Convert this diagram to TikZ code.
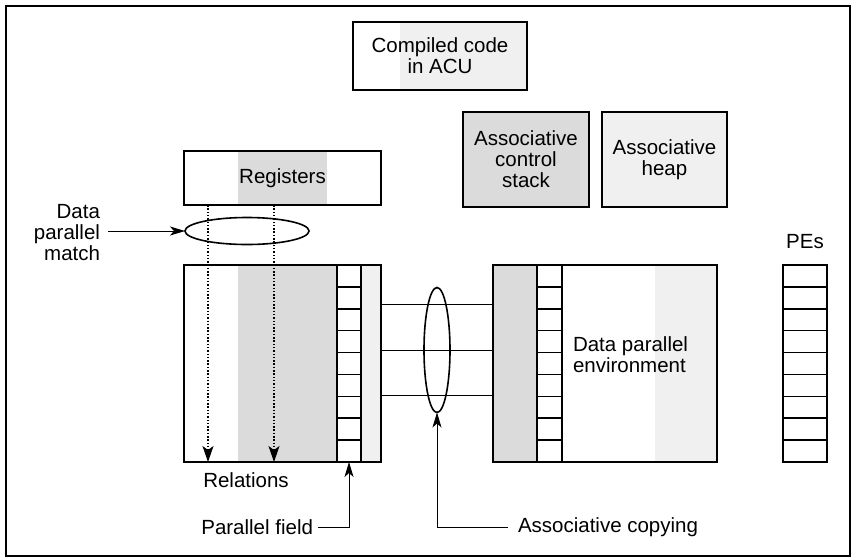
\documentclass[tikz,border=0pt]{standalone}
\usepackage{fontspec}
\setmainfont{Liberation Sans}
\usetikzlibrary{arrows.meta,shapes.geometric}
\begin{document}
\begin{tikzpicture}[x=1pt,y=-1pt,
  font=\fontsize{20.5}{21}\selectfont,
  box/.style={draw,line width=1.6pt,inner sep=0pt,outer sep=0pt,align=center},
  txt/.style={inner sep=0pt,outer sep=0pt,align=center},
  arr/.style={line width=0.8pt,-{Stealth[length=15pt,width=9pt,inset=4pt]}},
  darr/.style={line width=1.3pt,dash pattern=on 1.5pt off 1.8pt,-{Stealth[length=16pt,width=11pt,inset=4pt]}},
  conn/.style={line width=0.8pt},
  oval/.style={draw,ellipse,line width=1.6pt,inner sep=0pt,outer sep=0pt},
  shadeA/.style={fill=gray!28},
  shadeB/.style={fill=gray!12}
]
\useasboundingbox (0,0) rectangle (855,558);
% frame
\draw[line width=1.6pt] (6,6) rectangle (850,556);

% stipple-like shading
\fill[shadeB] (400,22) rectangle (527,90);
\fill[shadeA] (238,151) rectangle (327,205);
\fill[shadeA] (463,112) rectangle (589,207);
\fill[shadeB] (602,112) rectangle (727,207);
\fill[shadeA] (238,265) rectangle (337,462);
\fill[shadeB] (361,265) rectangle (381,462);
\fill[shadeA] (493,265) rectangle (537,462);
\fill[shadeB] (655,265) rectangle (717,462);

% boxes
\node[box,minimum width=174,minimum height=68] (acu) at (440,56) {Compiled code\\in ACU};
\node[box,minimum width=197,minimum height=54] (reg) at (282.5,178) {Registers};
\node[box,minimum width=126,minimum height=95] (acs) at (526,159.5) {Associative\\control\\stack};
\node[box,minimum width=125,minimum height=95] (heap) at (664.5,159.5) {Associative\\heap};

\node[box,minimum width=197,minimum height=197] (lbox) at (282.5,363.5) {};
\node[box,minimum width=224,minimum height=197] (rbox) at (605,363.5) {};
\node[box,minimum width=24,minimum height=197] (pf) at (349,363.5) {};
\node[box,minimum width=25,minimum height=197] (ec) at (549.5,363.5) {};
\node[box,minimum width=44,minimum height=197] (pes) at (805,363.5) {};
\foreach \k in {1,...,8}{
  \draw[line width=1.6pt] (337,265+21.89*\k) -- (361,265+21.89*\k);
  \draw[line width=1.6pt] (537,265+21.89*\k) -- (562,265+21.89*\k);
  \draw[line width=1.6pt] (783,265+21.89*\k) -- (827,265+21.89*\k);
}
\node[txt,align=left,anchor=west] (dpe) at (573,355) {Data parallel\\environment};
\node[txt] (pesl) at (805,242) {PEs};

% data parallel match
\node[oval,minimum width=124,minimum height=27] (match) at (247,231) {};
\node[txt,align=right,anchor=east] (matchl) at (100,233) {Data\\parallel\\match};
\draw[arr] (matchl.east)+(8,-2) -- (match.west);

% dotted arrows
\coordinate (d1) at (208,0);
\coordinate (d2) at (274,0);
\draw[darr] (reg.south -| d1) -- (lbox.south -| d1);
\draw[darr] (reg.south -| d2) -- (lbox.south -| d2);
\node[txt] (rel) at (246,480) {Relations};

% connectors between environments
\foreach \y/\n in {304/h1,350/h2,395/h3}{
  \coordinate (\n) at (437,\y);
  \draw[conn] (lbox.east |- \n) -- (rbox.west |- \n);
}
\node[oval,minimum width=26,minimum height=125] (copy) at (437,350) {};

% parallel field label
\node[txt,anchor=east] (pfl) at (313,527) {Parallel field};
\draw[arr] (pfl.east)+(5,0) -| (pf.south);

% associative copying label
\node[txt,anchor=west] (acl) at (518,527) {Associative copying};
\draw[arr] (acl.west)+(-10,0) -| (copy.south);
\end{tikzpicture}
\end{document}
